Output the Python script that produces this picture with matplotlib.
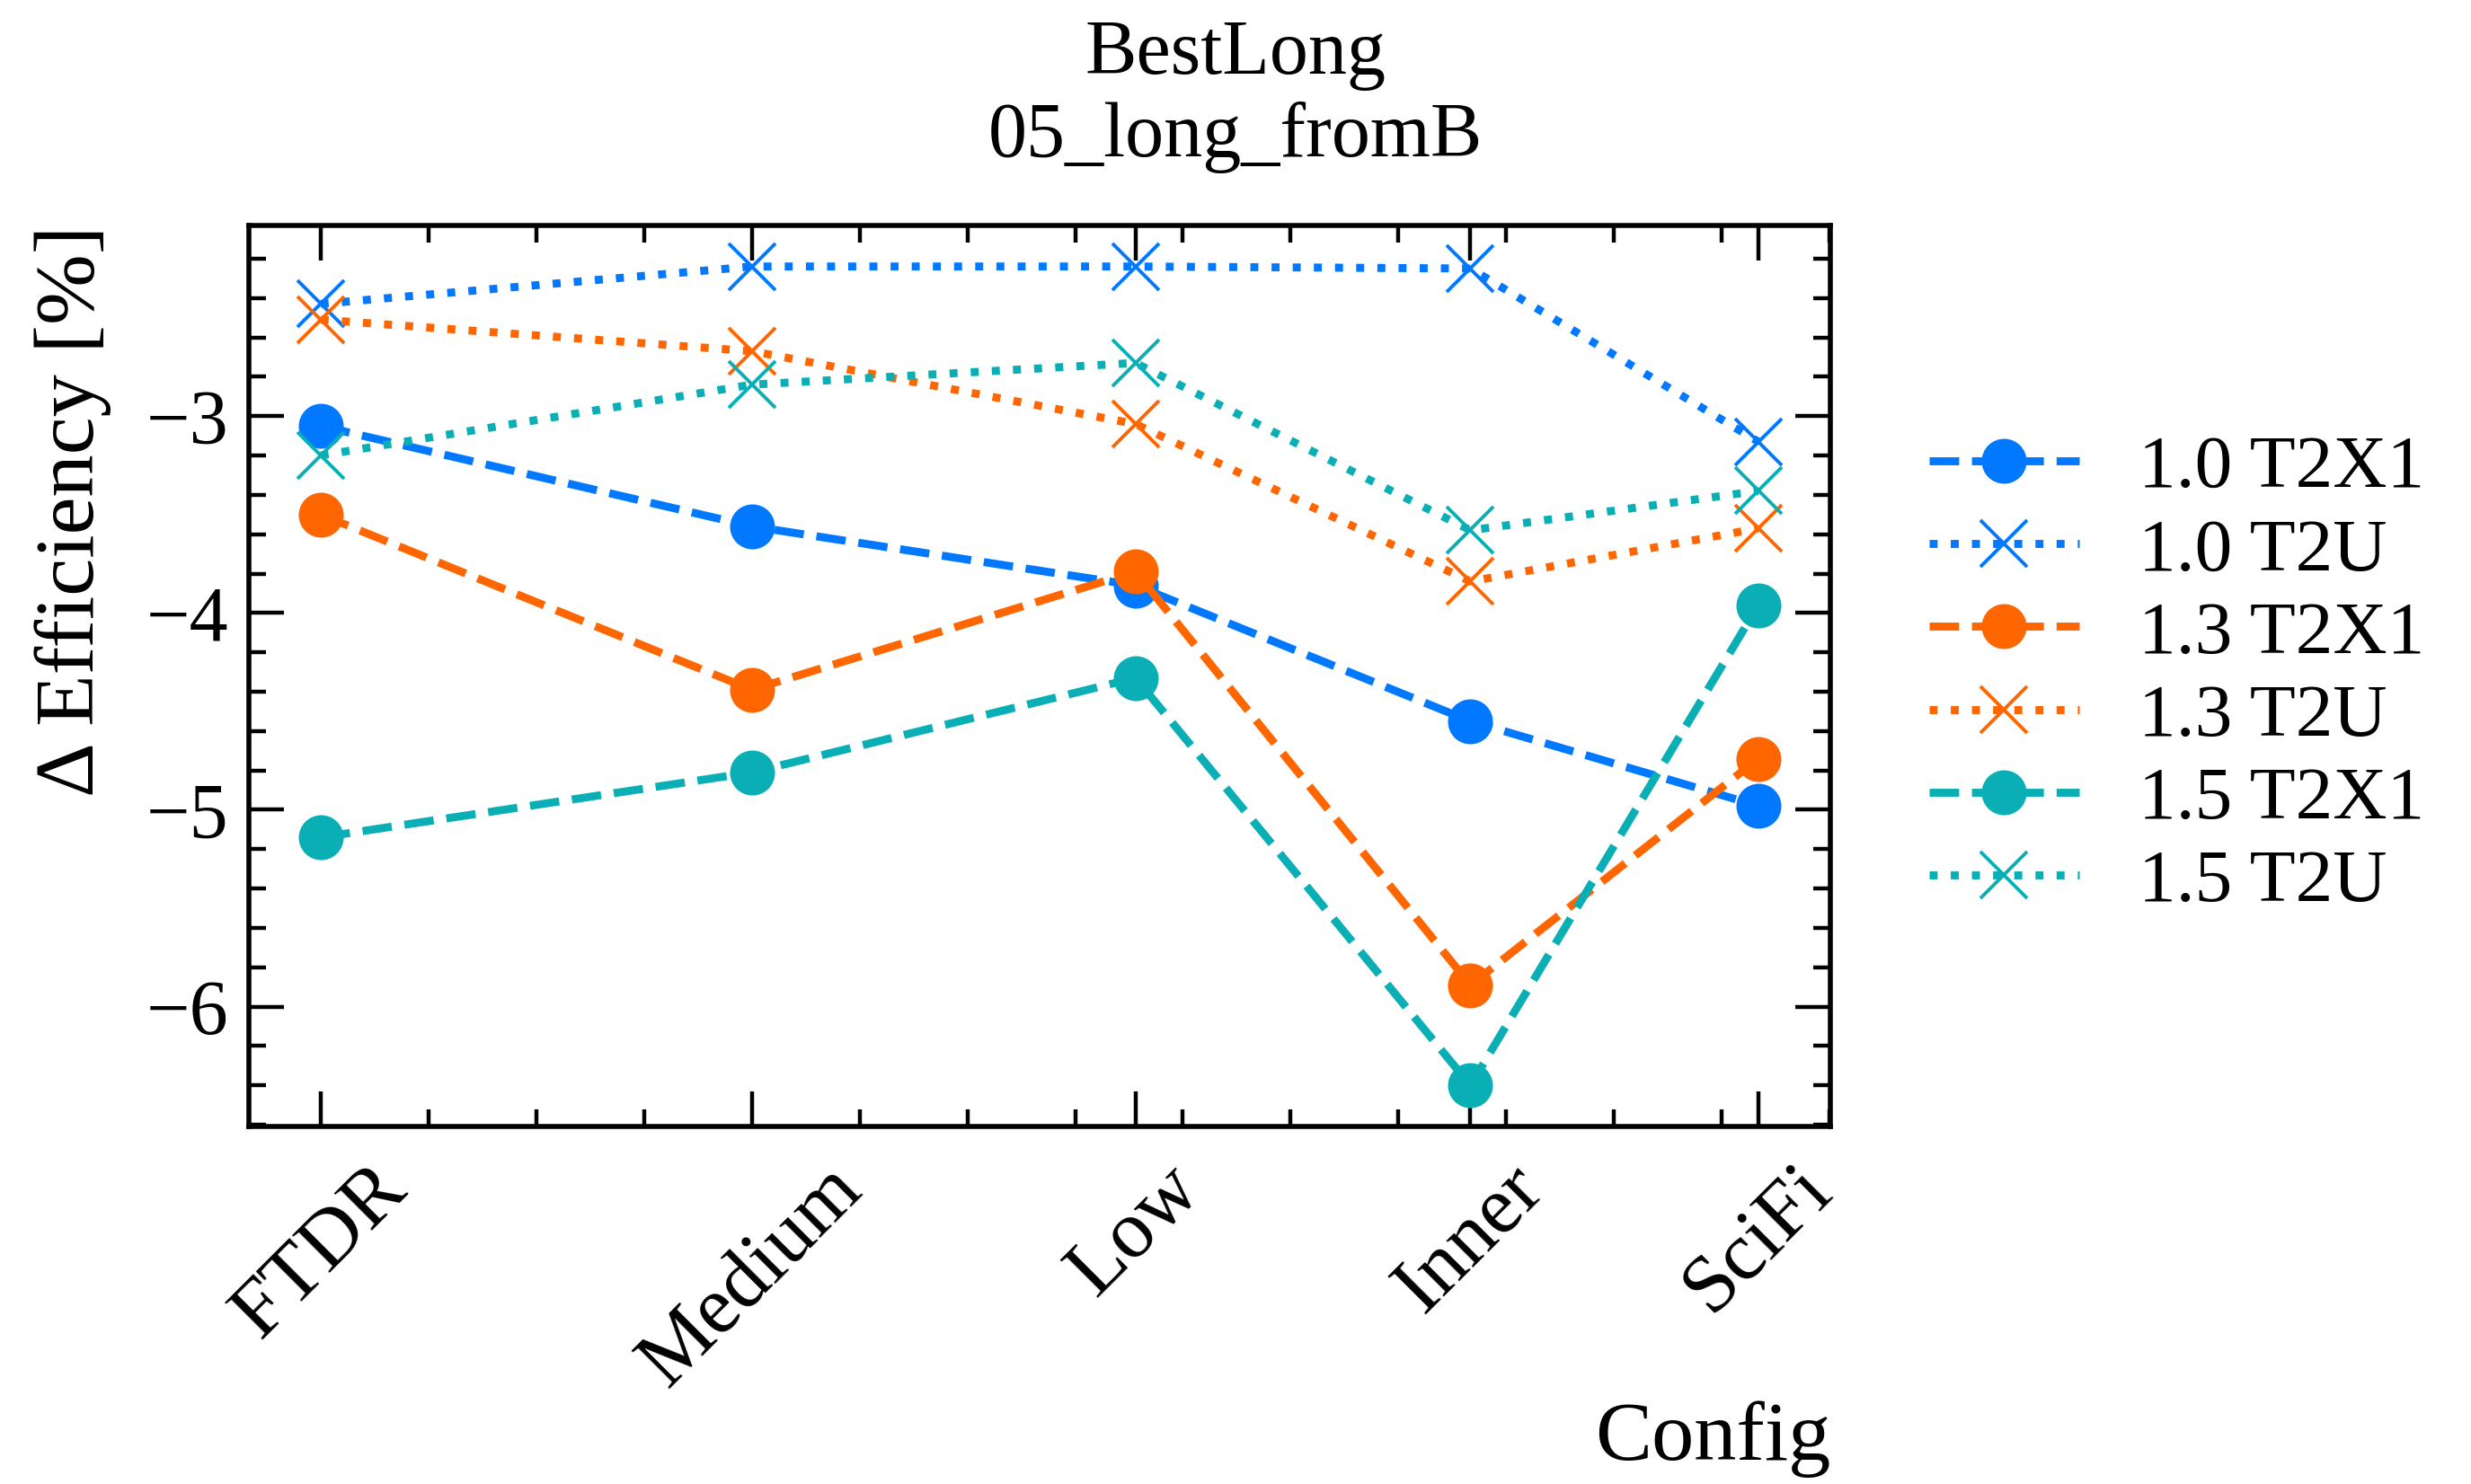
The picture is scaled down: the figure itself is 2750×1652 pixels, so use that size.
import matplotlib
matplotlib.use("Agg")
import matplotlib.pyplot as plt
from matplotlib.ticker import MultipleLocator

# config positions along x (non uniform, as in the original plot)
configs = ["FTDR", "Medium", "Low", "Inner", "SciFi"]
xpos = [0.0, 1.0, 1.89, 2.667, 3.335]

eff_10_t2x1 = [-3.05, -3.56, -3.86, -4.55, -4.98]
eff_10_t2u = [-2.43, -2.24, -2.24, -2.25, -3.13]
eff_13_t2x1 = [-3.50, -4.39, -3.79, -5.89, -4.74]
eff_13_t2u = [-2.51, -2.67, -3.04, -3.84, -3.57]
eff_15_t2x1 = [-5.14, -4.81, -4.33, -6.40, -3.96]
eff_15_t2u = [-3.20, -2.84, -2.73, -3.58, -3.38]

colors = ["#0078FF", "#FF6600", "#0AAFB6"]

plt.rcParams["font.family"] = ["Liberation Serif", "DejaVu Serif"]
plt.rcParams["font.size"] = 32
plt.rcParams["axes.linewidth"] = 2
plt.rcParams["xtick.direction"] = "in"
plt.rcParams["ytick.direction"] = "in"
plt.rcParams["xtick.top"] = True
plt.rcParams["ytick.right"] = True

fig = plt.figure(figsize=(13.75, 8.26), dpi=200)
ax = fig.add_axes([0.1007, 0.241, 0.64, 0.607])

series = [
    (eff_10_t2x1, "1.0 T2X1", colors[0], "o", "--"),
    (eff_10_t2u, "1.0 T2U", colors[0], "x", ":"),
    (eff_13_t2x1, "1.3 T2X1", colors[1], "o", "--"),
    (eff_13_t2u, "1.3 T2U", colors[1], "x", ":"),
    (eff_15_t2x1, "1.5 T2X1", colors[2], "o", "--"),
    (eff_15_t2u, "1.5 T2U", colors[2], "x", ":"),
]
for vals, lab, c, m, ls in series:
    if m == "o":
        ax.plot(xpos, vals, ls=ls, marker=m, color=c, lw=3.2, markersize=17, label=lab)
    else:
        ax.plot(xpos, vals, ls=ls, marker=m, color=c, lw=3.2, markersize=19,
                markeredgewidth=1.4, label=lab)

ax.set_xticks(xpos)
ax.set_xticklabels(configs, rotation=45, fontsize=33)
ax.xaxis.set_minor_locator(MultipleLocator(0.25))
ax.yaxis.set_major_locator(MultipleLocator(1))
ax.yaxis.set_minor_locator(MultipleLocator(0.2))
ax.tick_params(which="major", length=14, width=1.6)
ax.tick_params(which="minor", length=7, width=1.6)
ax.tick_params(axis="x", which="major", pad=10)
ax.tick_params(axis="y", which="major", labelsize=31, pad=8)

ax.set_xlabel("Config", loc="right", fontsize=34, labelpad=0)
ax.set_ylabel("Δ Efficiency [%]", loc="top", fontsize=34, labelpad=14)

fig.suptitle("BestLong\n05_long_fromB", y=0.987, va="top", fontsize=31)

ax.legend(loc="center left", bbox_to_anchor=(1.02, 0.5), frameon=False, fontsize=30,
          handlelength=2.0, handletextpad=0.8, labelspacing=0.19)

fig.savefig("out.png", dpi=200)
